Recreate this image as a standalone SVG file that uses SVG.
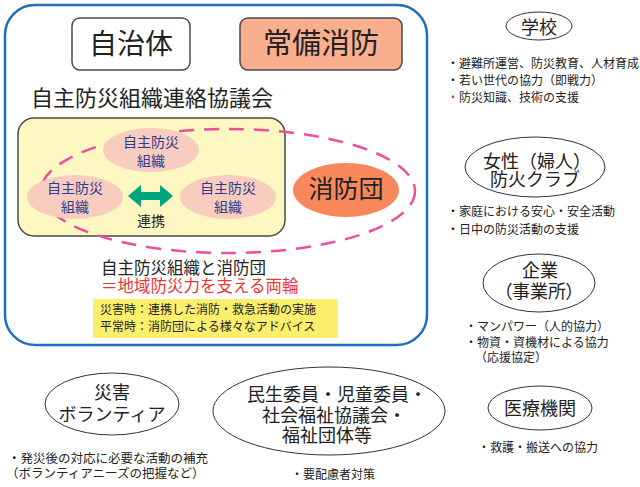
<svg xmlns="http://www.w3.org/2000/svg" width="640" height="487" viewBox="0 0 640 487">
<style>
text{font-family:"Noto Sans CJK JP","Noto Sans CJK SC",sans-serif;fill:#222}
.c{text-anchor:middle}
.org{fill:#f8cdbf;stroke:none}
.orgt{fill:#2d3b8e;font-size:14px;text-anchor:middle}
.partner{fill:#fff;stroke:#333;stroke-width:1}
.pt{font-size:18px;text-anchor:middle}
.b{font-size:12px}
.box{stroke:#4a4a4a;stroke-width:1.5}
</style>
<rect width="640" height="487" fill="#fff"/>

<g id="municipality-frame">
<rect x="5" y="5" width="422" height="340" rx="30" fill="#fff" stroke="#1f6fc0" stroke-width="2.5"/>
</g>

<g id="jichitai">
<rect class="box" x="72" y="18" width="118" height="52" rx="8" fill="#fff"/>
<text class="c" x="131" y="54" font-size="28">自治体</text>
</g>

<g id="jobi-shobo">
<rect class="box" x="240" y="18" width="162" height="52" rx="8" fill="#f9ae8e"/>
<text class="c" x="321" y="54" font-size="29">常備消防</text>
</g>

<g id="council">
<text x="31" y="106" font-size="22">自主防災組織連絡協議会</text>
<rect class="box" x="18" y="118" width="267" height="118" rx="16" fill="#fdf7c1"/>
</g>

<g id="dashed-ring">
<ellipse cx="228" cy="191" rx="187" ry="62" fill="none" stroke="#ee4f98" stroke-width="2.5" stroke-dasharray="15 10"/>
</g>

<g id="org-top">
<ellipse class="org" cx="151" cy="150" rx="48" ry="22"/>
<text class="orgt" x="151" y="147">自主防災</text>
<text class="orgt" x="151" y="166">組織</text>
</g>
<g id="org-left">
<ellipse class="org" cx="75" cy="197" rx="48" ry="22"/>
<text class="orgt" x="75" y="193">自主防災</text>
<text class="orgt" x="75" y="212">組織</text>
</g>
<g id="org-right">
<ellipse class="org" cx="228" cy="197" rx="48" ry="22"/>
<text class="orgt" x="228" y="193">自主防災</text>
<text class="orgt" x="228" y="212">組織</text>
</g>

<g id="shobodan">
<ellipse cx="346" cy="190" rx="53" ry="27" fill="#f8875b"/>
<text class="c" x="346" y="198" font-size="25">消防団</text>
</g>

<g id="connectors">
<polygon points="128,196 141,185 141,192 160,192 160,185 173,196 160,207 160,200 141,200 141,207" fill="#00a47f"/>
<text class="c" x="151" y="226" font-size="14">連携</text>
</g>

<g id="summary">
<text x="101" y="274" font-size="16.5">自主防災組織と消防団</text>
<text x="101" y="292" font-size="16.5" style="fill:#ee3535">＝地域防災力を支える両輪</text>
<rect x="93" y="299" width="245" height="39" fill="#fcef6c"/>
<text x="100" y="314" font-size="12">災害時：連携した消防・救急活動の実施</text>
<text x="100" y="331" font-size="12">平常時：消防団による様々なアドバイス</text>
</g>

<g id="school">
<ellipse class="partner" cx="539" cy="26" rx="33" ry="14"/>
<text class="pt" x="539" y="34">学校</text>
<text class="b" x="447" y="68">・避難所運営、防災教育、人材育成</text>
<text class="b" x="447" y="85">・若い世代の協力（即戦力）</text>
<text class="b" x="447" y="102"><tspan style="fill:#c0385a">・</tspan>防災知識、技術の支援</text>
</g>

<g id="womens-club">
<ellipse class="partner" cx="535" cy="167" rx="70" ry="30"/>
<text class="pt" x="537" y="168">女性（婦人）</text>
<text class="pt" x="535" y="186">防火クラブ</text>
<text class="b" x="447" y="216">・家庭における安心・安全活動</text>
<text class="b" x="447" y="234">・日中の防災活動の支援</text>
</g>

<g id="company">
<ellipse class="partner" cx="539" cy="283" rx="56" ry="29"/>
<text class="pt" x="540" y="277">企業</text>
<text class="pt" x="539" y="298" style="font-feature-settings:'palt'">（事業所）</text>
<text class="b" x="465" y="331">・マンパワー（人的協力）</text>
<text class="b" x="465" y="347">・物資・資機材による協力</text>
<text class="b" x="475" y="362">（応援協定）</text>
</g>

<g id="medical">
<ellipse class="partner" cx="540" cy="408" rx="52" ry="22"/>
<text class="pt" x="540" y="415">医療機関</text>
<text class="b" x="478" y="452">・救護・搬送への協力</text>
</g>

<g id="volunteer">
<ellipse class="partner" cx="112" cy="404" rx="67" ry="31"/>
<text class="pt" x="112" y="399">災害</text>
<text class="pt" x="112" y="421">ボランティア</text>
<text x="8" y="463" font-size="12.5">・発災後の対応に必要な活動の補充</text>
<text x="6" y="478" font-size="12.5">（ボランティアニーズの把握など）</text>
</g>

<g id="welfare">
<ellipse class="partner" cx="329" cy="411" rx="116" ry="44"/>
<text class="pt" x="337" y="401">民生委員・児童委員・</text>
<text class="pt" x="334" y="422">社会福祉協議会・</text>
<text class="pt" x="327" y="442">福祉団体等</text>
<text class="b" x="291" y="479">・要配慮者対策</text>
</g>
</svg>
